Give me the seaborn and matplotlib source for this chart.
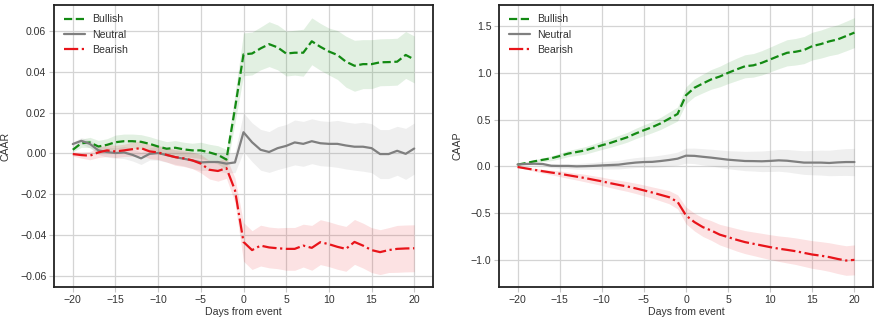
import numpy as np
import pandas as pd
import matplotlib
matplotlib.use("Agg")
import matplotlib.pyplot as plt
import seaborn as sns

days = list(range(-20, 21))

# Left panel: CAAR
caar_bull = [0.0018, 0.005, 0.0054, 0.0034, 0.0042, 0.0055, 0.006, 0.006, 0.0057, 0.0047,
             0.0034, 0.0023, 0.0028, 0.002, 0.0015, 0.0015, 0.0005, -0.0007, -0.003, 0.022,
             0.0486, 0.049, 0.0515, 0.0536, 0.052, 0.049, 0.0494, 0.0494, 0.055, 0.0523,
             0.05, 0.0483, 0.045, 0.043, 0.0438, 0.0438, 0.0447, 0.0448, 0.045, 0.0483, 0.0461]
caar_neut = [0.0046, 0.0062, 0.0047, 0.0015, 0.0007, 0.0002, 0.0005, -0.0007, -0.0024, -0.0002,
             0.0002, -0.0008, -0.0018, -0.0026, -0.0034, -0.0044, -0.0042, -0.0042, -0.005, -0.0044,
             0.0104, 0.0055, 0.0018, 0.0007, 0.0026, 0.0037, 0.0054, 0.0047, 0.006, 0.005,
             0.0047, 0.0047, 0.0039, 0.0033, 0.0033, 0.0026, -0.0003, -0.0003, 0.0013, -0.0002, 0.0024]
caar_bear = [-0.0003, -0.0008, -0.0011, 0.0005, 0.0015, 0.001, 0.0015, 0.0021, 0.0026, 0.001,
             0.0005, -0.0007, -0.0018, -0.0024, -0.0034, -0.005, -0.008, -0.0086, -0.0072, -0.018,
             -0.0434, -0.0474, -0.0452, -0.0461, -0.0465, -0.0468, -0.0468, -0.0452, -0.0463, -0.0435,
             -0.0445, -0.0458, -0.0468, -0.0434, -0.0452, -0.0474, -0.0484, -0.0474, -0.0468, -0.0466, -0.0465]
caar_bull_ci = [0.001, 0.002, 0.0025, 0.003, 0.003, 0.0035, 0.0035, 0.0035, 0.0035, 0.0035,
                0.0035, 0.0035, 0.0035, 0.0035, 0.0035, 0.004, 0.004, 0.0045, 0.005, 0.007,
                0.0105, 0.0105, 0.0105, 0.011, 0.011, 0.011, 0.011, 0.0115, 0.0115, 0.0115,
                0.0115, 0.012, 0.0125, 0.0125, 0.012, 0.012, 0.0115, 0.0115, 0.0115, 0.0115, 0.0115]
caar_neut_ci = [0.001, 0.0015, 0.002, 0.002, 0.0025, 0.0025, 0.003, 0.003, 0.003, 0.003,
                0.0035, 0.0035, 0.0035, 0.0035, 0.004, 0.004, 0.004, 0.0045, 0.0045, 0.005,
                0.0095, 0.0095, 0.01, 0.01, 0.0105, 0.0105, 0.011, 0.011, 0.011, 0.011,
                0.011, 0.0115, 0.0115, 0.0115, 0.012, 0.012, 0.012, 0.012, 0.012, 0.0125, 0.0125]
caar_bear_ci = [0.001, 0.0015, 0.002, 0.0025, 0.003, 0.003, 0.003, 0.0035, 0.0035, 0.0035,
                0.0035, 0.0035, 0.004, 0.004, 0.004, 0.0045, 0.0045, 0.005, 0.005, 0.006,
                0.0095, 0.0095, 0.01, 0.01, 0.01, 0.0105, 0.0105, 0.0105, 0.011, 0.011,
                0.011, 0.011, 0.011, 0.011, 0.011, 0.011, 0.011, 0.011, 0.0115, 0.0115, 0.0115]

# Right panel: CAAP
caap_bull = [0.018, 0.035, 0.054, 0.07, 0.086, 0.11, 0.136, 0.153, 0.17, 0.197,
             0.225, 0.25, 0.28, 0.31, 0.35, 0.386, 0.42, 0.46, 0.51, 0.56,
             0.76, 0.84, 0.886, 0.93, 0.96, 1.0, 1.036, 1.07, 1.08, 1.107,
             1.143, 1.18, 1.214, 1.225, 1.243, 1.286, 1.307, 1.336, 1.357, 1.393, 1.43]
caap_neut = [0.02, 0.025, 0.028, 0.025, 0.006, 0.004, 0.004, 0.0, 0.002, 0.005,
             0.01, 0.014, 0.018, 0.03, 0.04, 0.046, 0.048, 0.057, 0.068, 0.082,
             0.114, 0.112, 0.102, 0.093, 0.082, 0.071, 0.064, 0.057, 0.056, 0.054,
             0.058, 0.064, 0.06, 0.05, 0.04, 0.04, 0.04, 0.036, 0.042, 0.046, 0.046]
caap_bear = [-0.007, -0.022, -0.037, -0.052, -0.066, -0.079, -0.095, -0.11, -0.125, -0.143,
             -0.16, -0.18, -0.198, -0.215, -0.235, -0.257, -0.28, -0.305, -0.33, -0.38,
             -0.525, -0.596, -0.65, -0.686, -0.73, -0.757, -0.785, -0.81, -0.828, -0.846,
             -0.864, -0.88, -0.893, -0.907, -0.925, -0.943, -0.955, -0.97, -0.99, -1.007, -1.0]
caap_bull_ci = [0.0, 0.01, 0.015, 0.02, 0.025, 0.03, 0.033, 0.036, 0.04, 0.042,
                0.045, 0.047, 0.05, 0.052, 0.055, 0.058, 0.06, 0.065, 0.07, 0.075,
                0.09, 0.095, 0.1, 0.105, 0.11, 0.115, 0.12, 0.123, 0.126, 0.13,
                0.133, 0.136, 0.14, 0.142, 0.145, 0.148, 0.15, 0.153, 0.156, 0.158, 0.16]
caap_neut_ci = [0.0, 0.008, 0.012, 0.016, 0.02, 0.024, 0.027, 0.03, 0.033, 0.036,
                0.04, 0.043, 0.046, 0.05, 0.053, 0.056, 0.06, 0.063, 0.066, 0.07,
                0.08, 0.083, 0.087, 0.09, 0.093, 0.096, 0.1, 0.103, 0.106, 0.11,
                0.113, 0.116, 0.12, 0.123, 0.126, 0.13, 0.133, 0.136, 0.14, 0.143, 0.146]
caap_bear_ci = [0.0, 0.01, 0.015, 0.02, 0.025, 0.03, 0.033, 0.036, 0.04, 0.042,
                0.045, 0.047, 0.05, 0.052, 0.055, 0.058, 0.06, 0.065, 0.07, 0.075,
                0.09, 0.095, 0.1, 0.105, 0.11, 0.115, 0.12, 0.123, 0.126, 0.13,
                0.133, 0.136, 0.14, 0.142, 0.145, 0.148, 0.15, 0.153, 0.156, 0.158, 0.16]

labels = ["Bullish", "Neutral", "Bearish"]
colors = {"Bullish": "#138a13", "Neutral": "#7f7f7f", "Bearish": "#e8141a"}
styles = {"Bullish": "--", "Neutral": "-", "Bearish": "-."}

sns.set_theme(style="whitegrid")
plt.rcParams.update({
    "font.family": ["Liberation Sans", "DejaVu Sans"],
    "axes.edgecolor": "#222222",
    "axes.linewidth": 1.3,
    "grid.color": "#d4d4d4",
    "grid.linewidth": 0.9,
    "xtick.labelsize": 7.6,
    "ytick.labelsize": 7.6,
    "axes.labelsize": 7.6,
    "legend.fontsize": 7.6,
})

fig = plt.figure(figsize=(8.74, 3.22), dpi=100)
ax1 = fig.add_axes([54 / 874, 35 / 322, 379 / 874, 282 / 322])
ax2 = fig.add_axes([499 / 874, 35 / 322, 374 / 874, 282 / 322])


def draw(ax, series, cis, ylabel, ylim, yticks, ylab_x):
    for lab, vals, ci in zip(labels, series, cis):
        df = pd.DataFrame({"day": days, "val": vals})
        v = np.array(vals)
        c = np.array(ci)
        ax.fill_between(days, v - c, v + c, color=colors[lab], alpha=0.12, lw=0)
        sns.lineplot(data=df, x="day", y="val", ax=ax, color=colors[lab],
                     linestyle=styles[lab], linewidth=1.6, label=lab)
    ax.set_xlim(-22.2, 22.2)
    ax.set_ylim(*ylim)
    ax.set_xticks([-20, -15, -10, -5, 0, 5, 10, 15, 20])
    ax.set_yticks(yticks)
    ax.set_xlabel("Days from event", labelpad=1.5, color="#333333")
    ax.set_ylabel(ylabel, color="#333333")
    ax.yaxis.set_label_coords(ylab_x, 0.5)
    ax.tick_params(axis="both", which="major", direction="out", length=3.5,
                   width=0.8, color="#c8c8c8", labelcolor="#333333", pad=2,
                   bottom=True, left=True)
    leg = ax.legend(loc="upper left", frameon=False, handlelength=2.0,
                    labelspacing=0.5, borderaxespad=0.5, handletextpad=0.75)
    for t in leg.get_texts():
        t.set_color("#333333")


draw(ax1, [caar_bull, caar_neut, caar_bear], [caar_bull_ci, caar_neut_ci, caar_bear_ci],
     "CAAR", (-0.0655, 0.0728), [-0.06, -0.04, -0.02, 0.0, 0.02, 0.04, 0.06], -0.116)
draw(ax2, [caap_bull, caap_neut, caap_bear], [caap_bull_ci, caap_neut_ci, caap_bear_ci],
     "CAAP", (-1.29, 1.725), [-1.0, -0.5, 0.0, 0.5, 1.0, 1.5], -0.097)

fig.savefig("out.png", dpi=100)
